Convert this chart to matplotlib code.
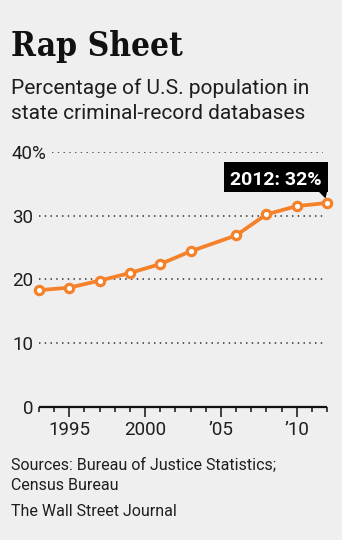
import matplotlib
matplotlib.use("Agg")
import matplotlib.pyplot as plt
import matplotlib.transforms as mtransforms
from matplotlib.patches import Rectangle, Polygon
from matplotlib.ticker import FixedLocator, MultipleLocator

# ---- data ----
years = [1993, 1995, 1997, 1999, 2001, 2003, 2006, 2008, 2010, 2012]
pct = [18.3, 18.7, 19.8, 21.0, 22.4, 24.4, 26.9, 30.2, 31.5, 32.0]
y_ticks = [0, 10, 20, 30, 40]
y_tick_labels = ["0", "10", "20", "30", "40"]
x_major = [1995, 2000, 2005, 2010]
x_major_labels = ["1995", "2000", "\u201905", "\u201910"]
title = "Rap Sheet"
subtitle = ["Percentage of U.S. population in", "state criminal-record databases"]
sources = ["Sources: Bureau of Justice Statistics;", "Census Bureau"]
credit = "The Wall Street Journal"
callout = "2012: 32%"

BG = "#efefef"
ORANGE = "#f5812a"
TXT = "#1e1e1e"
SANS = ["Roboto", "DejaVu Sans"]

W, H, DPI = 342, 540, 100
fig = plt.figure(figsize=(W / DPI, H / DPI), dpi=DPI, facecolor=BG)

def px_x(x):
    return x / W

def px_y(y):
    return 1 - y / H

# axes: x 39..327 px, y(0)=406.7, y(40)=152
ax = fig.add_axes([px_x(39), px_y(406.7), (327 - 39) / W, (406.7 - 152) / H])
ax.set_facecolor(BG)
ax.set_xlim(years[0], years[-1])
ax.set_ylim(0, 40)

for s in ["top", "right", "left"]:
    ax.spines[s].set_visible(False)
ax.spines["bottom"].set_linewidth(1.6)
ax.spines["bottom"].set_color("#111111")
ax.spines["bottom"].set_capstyle("butt")

# gridlines (dotted)
for v in y_ticks[1:]:
    x0 = 0.045 if v == y_ticks[-1] else 0.0
    ax.axhline(v, xmin=x0, xmax=0.986, color="#333333", lw=1.15,
               dashes=(0.9, 2.7), zorder=1)

# y tick labels
ax.set_yticks(y_ticks)
ax.set_yticklabels(y_tick_labels)
ax.tick_params(axis="y", length=0, pad=4.3, labelsize=13.5, labelcolor=TXT)
for lab in ax.get_yticklabels():
    lab.set_family(SANS)
blend = mtransforms.blended_transform_factory(ax.transAxes, ax.transData)
ax.text(-7 / 288, y_ticks[-1], "%", transform=blend, ha="left",
        va="center_baseline", fontsize=13.5, color=TXT, family=SANS)

# x ticks
ax.xaxis.set_major_locator(FixedLocator(x_major))
ax.set_xticklabels(x_major_labels)
ax.xaxis.set_minor_locator(MultipleLocator(1))
ax.tick_params(axis="x", which="major", length=7.2, width=1.1, color="#111111",
               pad=3, labelsize=13.5, labelcolor=TXT)
ax.tick_params(axis="x", which="minor", length=3.6, width=1.1, color="#111111")
for lab in ax.get_xticklabels():
    lab.set_family(SANS)

# line
ax.plot(years, pct, color=ORANGE, lw=2.7, marker="o", ms=6.0, mew=2.3,
        mfc="white", mec=ORANGE, clip_on=False, zorder=5,
        solid_joinstyle="round")

# callout box (offsets in pixels from the last point)
pt = mtransforms.ScaledTranslation(years[-1], pct[-1], ax.transData)
off = mtransforms.Affine2D() + pt
ax.add_patch(Rectangle((-103, 10.7), 104, 30, transform=off, facecolor="black",
                       edgecolor="none", clip_on=False, zorder=6))
ax.add_patch(Polygon([(-8, 11), (0, 11), (-1.5, 4.5)], closed=True,
                     transform=off, facecolor="black", edgecolor="none",
                     clip_on=False, zorder=6))
ax.text(-51, 25.2, callout, transform=off, ha="center", va="center_baseline",
        color="white", fontsize=14, fontweight="bold", family=SANS, zorder=7)

# titles
fig.text(px_x(11), px_y(56), title, fontsize=24, fontweight="bold",
         family=["DejaVu Serif"], fontstretch="condensed",
         color="#111111", va="baseline", ha="left")
fig.text(px_x(11), px_y(94), subtitle[0], fontsize=15, color=TXT,
         family=SANS, va="baseline")
fig.text(px_x(11), px_y(119), subtitle[1], fontsize=15, color=TXT,
         family=SANS, va="baseline")

# footer
fig.text(px_x(11), px_y(469), sources[0], fontsize=11.5, color=TXT,
         family=SANS, va="baseline")
fig.text(px_x(11), px_y(490), sources[1], fontsize=11.5, color=TXT,
         family=SANS, va="baseline")
fig.text(px_x(11), px_y(516), credit, fontsize=11.5, color=TXT,
         family=SANS, va="baseline")

fig.savefig("out.png", dpi=DPI, facecolor=BG)
